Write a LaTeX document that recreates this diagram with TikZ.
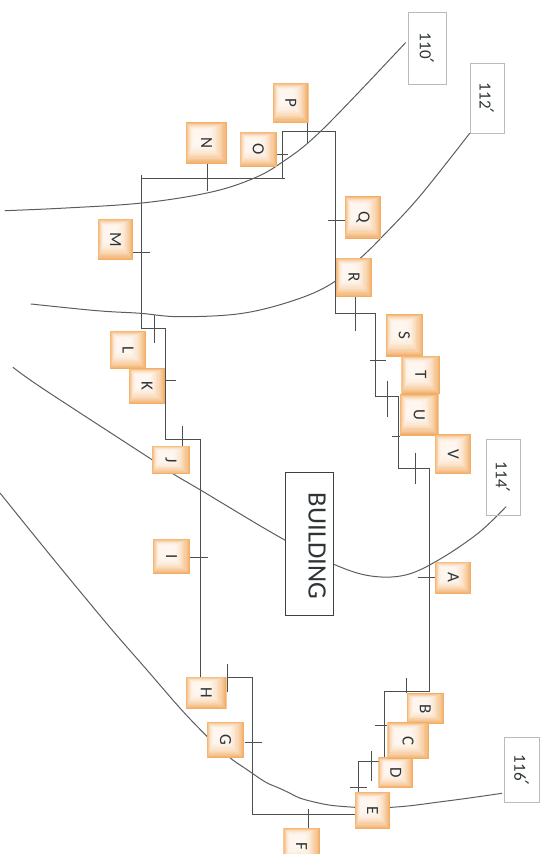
\documentclass[tikz,border=0pt]{standalone}
\usepackage{fontspec}
\usepackage{graphicx}
\setmainfont{Carlito}
\newfontfamily\primefont{DejaVu Sans}
\usetikzlibrary{calc}
\pgfdeclarelayer{lines}
\pgfsetlayers{lines,main}
\definecolor{tagedge}{HTML}{F2AE66}
\definecolor{tagcore}{HTML}{FEF6EF}
\definecolor{wirecol}{HTML}{4A5052}
\definecolor{curvecol}{HTML}{5A5E60}
\definecolor{labelbord}{HTML}{B8BCBC}
\definecolor{inkcol}{HTML}{2E3436}
\newcommand{\pr}{{\primefont\fontsize{20}{20}\selectfont ′}}
\tikzset{
  tagbox/.style={rectangle,inner sep=0pt,text=inkcol,font=\fontsize{17}{17}\selectfont,
    path picture={
      \fill[tagedge] (path picture bounding box.south west) rectangle (path picture bounding box.north east);
      \foreach \i in {1,...,16}{
        \pgfmathsetmacro\fa{\i*0.012}
        \pgfmathsetmacro\fb{\i*0.030}
        \pgfmathsetmacro\m{100*(1-(1-\i/16)*(1-\i/16))}
        \fill[tagcore!\m!tagedge]
          ($(path picture bounding box.north west)!\fa!(path picture bounding box.south east)$)
          rectangle
          ($(path picture bounding box.south east)!\fb!(path picture bounding box.north west)$);
      }
    }},
  refbox/.style={rectangle,draw=labelbord,line width=0.7pt,inner sep=0pt,text=inkcol,font=\fontsize{17}{17}\selectfont},
  bldbox/.style={rectangle,draw=wirecol!80!black,line width=1.2pt,fill=white,inner sep=0pt},
  bldtext/.style={inner sep=0pt,text=inkcol,font=\fontsize{26.5}{26.5}\selectfont},
  wire/.style={draw=wirecol,line width=1.3pt,line join=miter},
  tick/.style={draw=wirecol,line width=1.1pt},
  curve/.style={draw=curvecol,line width=1pt,line cap=round}
}
% name, x1, y1, x2, y2, style, text
\newcommand{\placebox}[7]{%
  \pgfmathsetmacro\bw{#4-#2}\pgfmathsetmacro\bh{#5-#3}%
  \pgfmathsetmacro\bx{(#2+#4)/2}\pgfmathsetmacro\by{(#3+#5)/2}%
  \node[#6,minimum width=\bw pt,minimum height=\bh pt] (#1) at (\bx,\by) {\rotatebox{-90}{#7}};%
}
\begin{document}
\begin{tikzpicture}[x=1pt,y=-1pt]
\clip (0,0) rectangle (545,854);
% tags
\placebox{P}{273}{83}{308.5}{123}{tagbox}{P}
\placebox{N}{186}{122}{227}{164}{tagbox}{N}
\placebox{O}{239.5}{132}{277}{167}{tagbox}{O}
\placebox{M}{98}{219}{133}{260}{tagbox}{M}
\placebox{Q}{345}{196}{381}{239}{tagbox}{Q}
\placebox{R}{336}{258}{372}{297}{tagbox}{R}
\placebox{S}{385.8}{314}{423}{356.7}{tagbox}{S}
\placebox{L}{110}{331}{146.3}{369.3}{tagbox}{L}
\placebox{K}{129}{368.3}{165}{404}{tagbox}{K}
\placebox{T}{401.4}{355.7}{440}{394.3}{tagbox}{T}
\placebox{U}{400}{394.3}{438.5}{435.7}{tagbox}{U}
\placebox{V}{435}{434.3}{471.4}{474.3}{tagbox}{V}
\placebox{J}{151.8}{445.7}{190}{474.3}{tagbox}{J}
\placebox{I}{153}{539}{190}{574.3}{tagbox}{I}
\placebox{A}{435}{561.7}{471.4}{594}{tagbox}{A}
\placebox{H}{186}{676.7}{226.7}{709}{tagbox}{H}
\placebox{G}{206.7}{721.7}{244.3}{758.3}{tagbox}{G}
\placebox{B}{406.7}{693.3}{444}{724}{tagbox}{B}
\placebox{D}{378.3}{757.3}{413.3}{788.3}{tagbox}{D}
\placebox{C}{387.3}{722.3}{429}{759}{tagbox}{C}
\placebox{E}{355}{792}{390}{829}{tagbox}{E}
\placebox{F}{283.3}{827.7}{320}{866}{tagbox}{F}
% reference labels
\placebox{r110}{408}{12}{446}{84}{refbox}{110\pr}
\placebox{r112}{470}{63}{504}{133}{refbox}{112\pr}
\placebox{r114}{486.3}{439}{520}{515}{refbox}{114\pr}
\placebox{r116}{504.3}{737.3}{539}{802.7}{refbox}{116\pr}
% building
\placebox{bld}{285.3}{472.7}{333.4}{615.7}{bldbox}{}
\node[bldtext] (bldlabel) at (317,546) {\rotatebox{-90}{BUILDING}};
\begin{pgfonlayer}{lines}
% building outline
\draw[wire] (141.5,178.5) -- (285,178.5) (282.5,178.5) -- (282.5,131.5) -- (335.5,131.5) -- (335.5,313.5)
  -- (375.5,313.5) -- (375.5,396.5) -- (398.5,396.5) -- (398.5,468.5) -- (429.5,468.5) -- (429.5,691.5)
  -- (384.5,691.5) -- (384.5,761.5) -- (358.5,761.5) -- (358.5,814.5) -- (252.5,814.5) -- (252.5,677.5)
  -- (226.7,677.5) (200.5,677) -- (200.5,439.5) -- (165.5,439.5) -- (165.5,328.5) -- (141.5,328.5) -- (141.5,175);
% ticks
\coordinate (tP) at (307.5,144); \draw[tick] (P.south -| tP) -- (tP);
\coordinate (tN) at (207.5,191); \draw[tick] (N.south -| tN) -- (tN);
\coordinate (tO) at (288,154.5); \draw[tick] (O.east |- tO) -- (tO);
\coordinate (tM) at (150,252.5); \draw[tick] (M.east |- tM) -- (tM);
\coordinate (tQ) at (328,220.5); \draw[tick] (Q.west |- tQ) -- (tQ);
\coordinate (tR) at (355.5,330.7); \draw[tick] (R.south -| tR) -- (tR);
\coordinate (tL) at (154.5,315); \coordinate (tLb) at (154.5,342.7); \draw[tick] (tL) -- (tLb);
\coordinate (tK) at (176,380.5); \draw[tick] (K.east |- tK) -- (tK);
\coordinate (tJ) at (182.5,425.7); \draw[tick] (J.north -| tJ) -- (tJ);
\coordinate (tI) at (208,557.5); \draw[tick] (I.east |- tI) -- (tI);
\coordinate (tS) at (370,360.5); \draw[tick] (S.west |- tS) -- (tS);
\coordinate (tT) at (387.5,380.7); \coordinate (tTb) at (387.5,416.7); \draw[tick] (tT) -- (tTb);
\coordinate (tU) at (391.7,436.5); \draw[tick] (U.west |- tU) -- (tU);
\coordinate (tV) at (415.5,452.7); \coordinate (tVb) at (415.5,484.3); \draw[tick] (tV) -- (tVb);
\coordinate (tA) at (417.7,577.5); \draw[tick] (A.west |- tA) -- (tA);
\coordinate (tH) at (227.5,664); \coordinate (tHb) at (227.5,691.7); \draw[tick] (tH) -- (tHb);
\coordinate (tG) at (262.3,742.5); \draw[tick] (G.east |- tG) -- (tG);
\coordinate (tB) at (406.5,677.7); \draw[tick] (B.north -| tB) -- (tB);
\coordinate (tC) at (375.3,725.5); \draw[tick] (C.west |- tC) -- (tC);
\coordinate (tD) at (371.5,751); \coordinate (tDb) at (371.5,780.7); \draw[tick] (tD) -- (tDb);
\coordinate (tE) at (350,787.5); \coordinate (tEb) at (366.7,787.5); \draw[tick] (tE) -- (tEb);
\coordinate (tF) at (308.5,809); \draw[tick] (F.north -| tF) -- (tF);
% curves
\draw[curve] plot[smooth,tension=0.6] coordinates {(405.5,42.7) (322,130) (281,163) (249.6,180) (207,193) (142,203) (66,208) (5,210.7)};
\draw[curve] plot[smooth,tension=0.6] coordinates {(r112.south west) (419.4,196.7) (381,238) (362,256.7) (334.5,281.7) (298,299) (242.6,313.3) (180,316.7) (140.4,313.3) (97,310.7) (31,304)};
\draw[curve] plot[smooth,tension=0.6] coordinates {(13,367.3) (45,390) (152.5,460) (175,475) (199.3,489.3) (283.5,539.3) (335.5,565) (371,576) (405.5,575) (438.5,560) (478,533.3) (506,506.7)};
\draw[curve] plot[smooth,tension=0.9] coordinates {(0,493) (78,589) (140,662) (206.7,736) (252.3,773.3) (283.3,790) (313,801.7) (355,807.3) (391.7,807.3) (446.7,801) (501.7,793.3)};
\end{pgfonlayer}
\end{tikzpicture}
\end{document}
